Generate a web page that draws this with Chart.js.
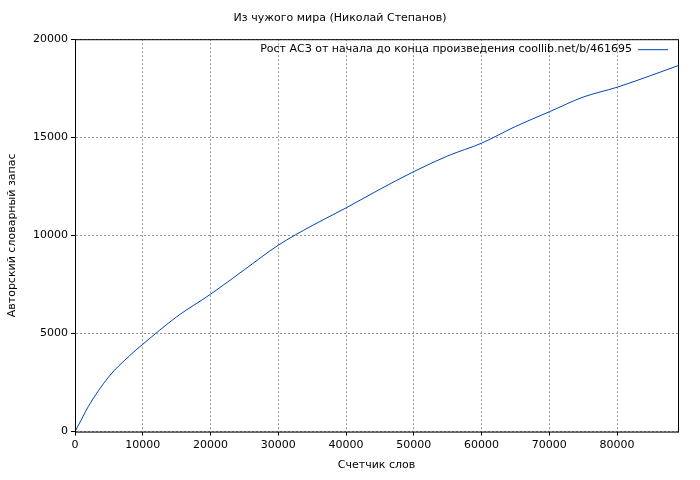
<!DOCTYPE html>
<html><head><meta charset="utf-8">
<script src="https://cdn.jsdelivr.net/npm/chart.js@4"></script>
<style>body{margin:0;background:#fff}#wrap{width:700px;height:480px}</style>
</head><body><div id="wrap"><canvas id="c"></canvas></div>
<script>
const words = [0,1000,2000,5000,8000,10000,15000,20000,25000,30000,35000,40000,45000,50000,55000,60000,65000,70000,75000,80000,85000,89000];
const vocab = [0,650,1300,2800,3850,4450,5850,7000,8250,9500,10500,11400,12350,13250,14050,14700,15550,16300,17050,17550,18150,18650];
const xTicks = [0,10000,20000,30000,40000,50000,60000,70000,80000];
const seriesLabel = 'Рост АСЗ от начала до конца произведения coollib.net/b/461695';
const FONT = 'DejaVu Sans';

const frame = {
  id:'frame',
  afterDraw(c){
    const {ctx, chartArea:a} = c;
    ctx.save();
    ctx.strokeStyle='#000'; ctx.lineWidth=1;
    ctx.strokeRect(a.left+0.5,a.top+0.5,a.right-a.left,a.bottom-a.top);
    ctx.font='11px '+FONT; ctx.fillStyle='#000'; ctx.textAlign='right'; ctx.textBaseline='middle';
    ctx.fillText(seriesLabel, a.right-46, a.top+10);
    ctx.strokeStyle='#0044bb';
    ctx.beginPath(); ctx.moveTo(a.right-40,a.top+10.5); ctx.lineTo(a.right-10,a.top+10.5); ctx.stroke();
    ctx.restore();
  }
};

new Chart(document.getElementById('c'),{
  type:'line',
  data:{datasets:[{label:seriesLabel,data:words.map((w,i)=>({x:w,y:vocab[i]})),
    borderColor:'#0044bb',borderWidth:1,pointRadius:0,cubicInterpolationMode:'monotone',fill:false}]},
  options:{
    responsive:true,maintainAspectRatio:false,animation:false,
    layout:{padding:{top:0,right:22,bottom:4,left:2}},
    plugins:{legend:{display:false},tooltip:{enabled:false},
      title:{display:true,text:'Из чужого мира (Николай Степанов)',color:'#000',font:{family:FONT,size:11,weight:'normal'},padding:{top:12,bottom:14}}},
    scales:{
      x:{type:'linear',min:0,max:89000,
        afterBuildTicks(s){s.ticks=xTicks.map(v=>({value:v}));},
        ticks:{color:'#000',font:{family:FONT,size:11},maxRotation:0,callback:v=>String(v)},
        grid:{color:'#999',tickColor:'#000',tickLength:4},border:{display:true,dash:[2,2]},
        title:{display:true,text:'Счетчик слов',color:'#000',font:{family:FONT,size:11}}},
      y:{min:0,max:20000,
        ticks:{stepSize:5000,color:'#000',font:{family:FONT,size:11},callback:v=>String(v)},
        grid:{color:'#999',tickColor:'#000',tickLength:4},border:{display:true,dash:[2,2]},
        title:{display:true,text:'Авторский словарный запас',color:'#000',font:{family:FONT,size:11}},
        afterFit(s){s.width=73;}}
    }
  },
  plugins:[frame]
});
</script></body></html>
